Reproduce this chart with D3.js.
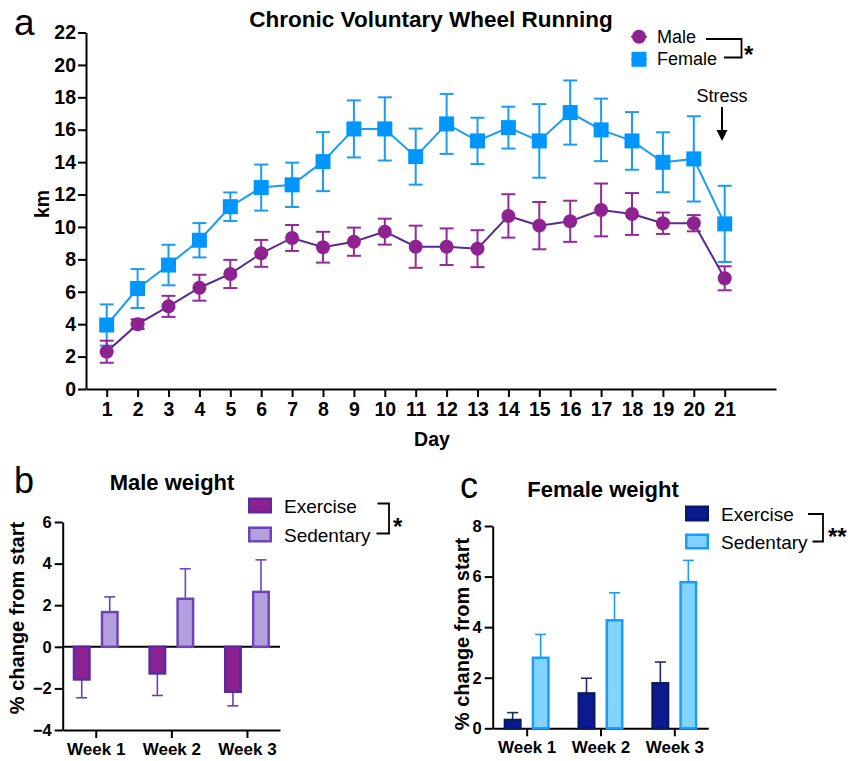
<!DOCTYPE html>
<html>
<head>
<meta charset="utf-8">
<script src="https://cdn.jsdelivr.net/npm/d3@7"></script>
<style>
  body { margin: 0; background: #fff; }
  text { font-family: "Liberation Sans", Arial, Helvetica, sans-serif; }
</style>
</head>
<body>
<script>
// Panel a: wheel running (km per day, mean and SEM)
const days = [1, 2, 3, 4, 5, 6, 7, 8, 9, 10, 11, 12, 13, 14, 15, 16, 17, 18, 19, 20, 21];
const kmTicks = [0, 2, 4, 6, 8, 10, 12, 14, 16, 18, 20, 22];
const maleKm = [2.3, 4.0, 5.1, 6.25, 7.1, 8.37, 9.32, 8.75, 9.09, 9.71, 8.78, 8.78, 8.66, 10.68, 10.08, 10.35, 11.05, 10.8, 10.23, 10.23, 6.83];
const maleSem = [0.68, 0.3, 0.65, 0.8, 0.87, 0.83, 0.8, 0.95, 0.87, 0.8, 1.3, 1.13, 1.14, 1.34, 1.46, 1.27, 1.63, 1.29, 0.66, 0.5, 0.74];
const femaleKm = [3.95, 6.2, 7.65, 9.18, 11.25, 12.43, 12.6, 14.03, 16.05, 16.05, 14.34, 16.36, 15.31, 16.13, 15.31, 17.06, 15.99, 15.31, 13.99, 14.2, 10.19];
const femaleSem = [1.27, 1.2, 1.25, 1.06, 0.88, 1.42, 1.37, 1.82, 1.76, 1.95, 1.73, 1.85, 1.43, 1.29, 2.27, 1.98, 1.93, 1.78, 1.85, 2.63, 2.35];

// Panels b and c: weight change
const weeks = ["Week 1", "Week 2", "Week 3"];
const groups = ["Exercise", "Sedentary"];
const maleTicks = [-4, -2, 0, 2, 4, 6];
const maleExercise = [-1.57, -1.28, -2.16];
const maleExerciseSem = [0.88, 1.06, 0.68];
const maleSedentary = [1.67, 2.31, 2.64];
const maleSedentarySem = [0.73, 1.44, 1.54];
const femaleTicks = [0, 2, 4, 6, 8];
const femaleExercise = [0.33, 1.38, 1.78];
const femaleExerciseSem = [0.29, 0.6, 0.84];
const femaleSedentary = [2.79, 4.27, 5.78];
const femaleSedentarySem = [0.92, 1.09, 0.86];

const FONT = '"Liberation Sans", Arial, Helvetica, sans-serif';

const svg = d3.select("body").append("svg")
  .attr("width", 855)
  .attr("height", 761);

function styleAxis(g, size) {
  g.select(".domain").attr("stroke", "#000").attr("stroke-width", 2);
  g.selectAll(".tick line").attr("stroke", "#000").attr("stroke-width", 2);
  g.selectAll(".tick text")
    .attr("font-family", FONT)
    .attr("font-size", size)
    .attr("font-weight", "bold")
    .attr("fill", "#000");
}

function addText(g, x, y, str, size, opts) {
  opts = opts || {};
  return g.append("text")
    .attr("x", x)
    .attr("y", y)
    .attr("font-size", size)
    .attr("font-weight", opts.bold ? "bold" : "normal")
    .attr("text-anchor", opts.anchor || "start")
    .attr("fill", "#000")
    .text(str);
}

function bracket(g, x1, y1, xr, y2, x2) {
  g.append("path")
    .attr("d", `M${x1},${y1}H${xr}V${y2}H${x2}`)
    .attr("fill", "none")
    .attr("stroke", "#000")
    .attr("stroke-width", 1.8);
}

/* ---------- Panel a ---------- */
const gA = svg.append("g");
const xA = d3.scaleLinear().domain([0.33, 22.66]).range([86, 776]);
const yA = d3.scaleLinear().domain([0, 22]).range([389, 32.5]);

gA.append("g")
  .attr("transform", "translate(0,389)")
  .call(d3.axisBottom(xA).tickValues(days).tickFormat(d3.format("d"))
    .tickSize(8).tickSizeOuter(0).tickPadding(5))
  .call(g => styleAxis(g, 19.5));
gA.append("g")
  .attr("transform", "translate(86,0)")
  .call(d3.axisLeft(yA).tickValues(kmTicks).tickSize(8).tickSizeOuter(0).tickPadding(2))
  .call(g => styleAxis(g, 19.5));

addText(gA, 14, 35, "a", 37);
addText(gA, 431, 27, "Chronic Voluntary Wheel Running", 22.5, { bold: true, anchor: "middle" });
addText(gA, 432, 446, "Day", 19.5, { bold: true, anchor: "middle" });
gA.append("text")
  .attr("transform", "translate(49,204) rotate(-90)")
  .attr("text-anchor", "middle")
  .attr("font-size", 19.5)
  .attr("font-weight", "bold")
  .text("km");

const seriesA = [
  { name: "Female", values: femaleKm, sem: femaleSem, marker: "#0096ff", line: "#1b9cf2", err: "#1b9cf2", shape: "square" },
  { name: "Male", values: maleKm, sem: maleSem, marker: "#8e2290", line: "#5a2a8e", err: "#93299a", shape: "circle" }
];

seriesA.forEach(s => {
  const pts = days.map((d, i) => ({ day: d, v: s.values[i], e: s.sem[i] }));
  const g = gA.append("g");
  // error bars
  const eb = g.selectAll(".eb").data(pts).enter().append("g")
    .attr("stroke", s.err).attr("stroke-width", 2);
  eb.append("line")
    .attr("x1", d => xA(d.day)).attr("x2", d => xA(d.day))
    .attr("y1", d => yA(d.v + d.e)).attr("y2", d => yA(d.v - d.e));
  eb.append("line")
    .attr("x1", d => xA(d.day) - 7).attr("x2", d => xA(d.day) + 7)
    .attr("y1", d => yA(d.v + d.e)).attr("y2", d => yA(d.v + d.e));
  eb.append("line")
    .attr("x1", d => xA(d.day) - 7).attr("x2", d => xA(d.day) + 7)
    .attr("y1", d => yA(d.v - d.e)).attr("y2", d => yA(d.v - d.e));
  // connecting line
  g.append("path")
    .datum(pts)
    .attr("fill", "none")
    .attr("stroke", s.line)
    .attr("stroke-width", 2)
    .attr("d", d3.line().x(d => xA(d.day)).y(d => yA(d.v)));
  // markers
  if (s.shape === "circle") {
    g.selectAll(".m").data(pts).enter().append("circle")
      .attr("cx", d => xA(d.day)).attr("cy", d => yA(d.v))
      .attr("r", 7).attr("fill", s.marker);
  } else {
    g.selectAll(".m").data(pts).enter().append("rect")
      .attr("x", d => xA(d.day) - 7.5).attr("y", d => yA(d.v) - 7.5)
      .attr("width", 15).attr("height", 15).attr("fill", s.marker);
  }
});

// legend a
const legA = gA.append("g");
[["Male", 36.7, seriesA[1]], ["Female", 59.3, seriesA[0]]].forEach(([name, ly, s]) => {
  legA.append("line").attr("x1", 631).attr("x2", 647).attr("y1", ly).attr("y2", ly)
    .attr("stroke", s.line).attr("stroke-width", 1.5);
  if (s.shape === "circle") {
    legA.append("circle").attr("cx", 639).attr("cy", ly).attr("r", 7).attr("fill", s.marker);
  } else {
    legA.append("rect").attr("x", 631.5).attr("y", ly - 7.5).attr("width", 15).attr("height", 15).attr("fill", s.marker);
  }
  addText(legA, 657, ly + 6, name, 18);
});
bracket(legA, 706, 39, 741.5, 57.5, 724);
addText(legA, 744, 63, "*", 24, { bold: true });

// stress marker
addText(gA, 722, 102, "Stress", 18, { anchor: "middle" });
gA.append("line").attr("x1", 722).attr("x2", 722).attr("y1", 107).attr("y2", 132)
  .attr("stroke", "#000").attr("stroke-width", 2);
gA.append("path").attr("d", "M716.5,130L727.5,130L722,141Z").attr("fill", "#000");

/* ---------- Panels b and c ---------- */
function barPanel(cfg) {
  const g = svg.append("g");
  const x = d3.scalePoint().domain(weeks).range([cfg.left, cfg.right]).padding(cfg.pad);
  const off = d3.scalePoint().domain(groups).range([-14, 14]);
  const y = d3.scaleLinear().domain(cfg.domain).range([cfg.bottom, cfg.top]);
  const barW = 18;

  g.append("g")
    .attr("transform", `translate(0,${cfg.bottom})`)
    .call(d3.axisBottom(x).tickSize(8).tickSizeOuter(0).tickPadding(5))
    .call(a => styleAxis(a, 17));
  g.append("g")
    .attr("transform", `translate(${cfg.left},0)`)
    .call(d3.axisLeft(y).tickValues(cfg.ticks).tickSize(8).tickSizeOuter(0).tickPadding(3))
    .call(a => styleAxis(a, 16.5));
  if (cfg.domain[0] < 0) {
    g.append("line")
      .attr("x1", cfg.left).attr("x2", cfg.right)
      .attr("y1", y(0)).attr("y2", y(0))
      .attr("stroke", "#000").attr("stroke-width", 2);
  }

  cfg.series.forEach(s => {
    const pts = weeks.map((w, i) => ({ w: w, v: s.values[i], e: s.sem[i] }));
    const cx = d => x(d.w) + off(s.name);
    // error bar (one-sided, away from zero)
    const eb = g.append("g").attr("stroke", s.err).attr("stroke-width", 1.6);
    eb.selectAll(".v").data(pts).enter().append("line")
      .attr("x1", cx).attr("x2", cx)
      .attr("y1", d => y(d.v)).attr("y2", d => y(d.v + Math.sign(d.v) * d.e));
    eb.selectAll(".c").data(pts).enter().append("line")
      .attr("x1", d => cx(d) - 5.5).attr("x2", d => cx(d) + 5.5)
      .attr("y1", d => y(d.v + Math.sign(d.v) * d.e)).attr("y2", d => y(d.v + Math.sign(d.v) * d.e));
    g.selectAll(".bar-" + s.name).data(pts).enter().append("rect")
      .attr("x", d => cx(d) - barW / 2 + 1.25)
      .attr("width", barW - 2.5)
      .attr("y", d => Math.min(y(d.v), y(0)))
      .attr("height", d => Math.abs(y(d.v) - y(0)))
      .attr("fill", s.fill)
      .attr("stroke", s.stroke)
      .attr("stroke-width", 2.5);
  });

  addText(g, cfg.labelX, cfg.labelY, cfg.label, 36);
  addText(g, cfg.titleX, cfg.titleY, cfg.title, 22, { bold: true, anchor: "middle" });
  g.append("text")
    .attr("transform", `translate(${cfg.yLabelX},${cfg.yLabelY}) rotate(-90)`)
    .attr("text-anchor", "middle")
    .attr("font-size", 20)
    .attr("font-weight", "bold")
    .text("% change from start");

  // legend
  cfg.series.forEach((s, i) => {
    const ly = cfg.legY[i];
    g.append("rect")
      .attr("x", cfg.legX + 1.25).attr("y", ly + 1.25)
      .attr("width", 21.5).attr("height", 13.5)
      .attr("fill", s.fill).attr("stroke", s.stroke).attr("stroke-width", 2.5);
    addText(g, cfg.legX + 36, ly + 15, s.name, 19);
  });
  const b = cfg.bracket;
  bracket(g, b[0], b[1], b[2], b[3], b[4]);
  addText(g, cfg.starX, cfg.starY, cfg.star, 24, { bold: true });
}

barPanel({
  left: 62.7, right: 280, pad: 0.437, top: 522, bottom: 730, domain: [-4, 6], ticks: maleTicks,
  label: "b", labelX: 14, labelY: 493,
  title: "Male weight", titleX: 172, titleY: 490,
  yLabelX: 24, yLabelY: 618,
  legX: 248, legY: [497.5, 526.5],
  bracket: [377.5, 503.5, 389, 533.5, 376.5], star: "*", starX: 393, starY: 535,
  series: [
    { name: "Exercise", values: maleExercise, sem: maleExerciseSem, fill: "#8e2191", stroke: "#5d2a9c", err: "#6b3fb0" },
    { name: "Sedentary", values: maleSedentary, sem: maleSedentarySem, fill: "#b3a0dc", stroke: "#6e45b5", err: "#6e45b5" }
  ]
});

barPanel({
  left: 492.7, right: 708.3, pad: 0.46, top: 526, bottom: 728.3, domain: [0, 8], ticks: femaleTicks,
  label: "c", labelX: 460, labelY: 498,
  title: "Female weight", titleX: 603, titleY: 497,
  yLabelX: 469, yLabelY: 634,
  legX: 685, legY: [505.5, 533.5],
  bracket: [808, 514, 823, 541.5, 812.5], star: "**", starX: 828, starY: 545,
  series: [
    { name: "Exercise", values: femaleExercise, sem: femaleExerciseSem, fill: "#0b1b8f", stroke: "#0a1a60", err: "#1e2a70" },
    { name: "Sedentary", values: femaleSedentary, sem: femaleSedentarySem, fill: "#80d4ff", stroke: "#1a9cff", err: "#1a9cff" }
  ]
});
</script>
</body>
</html>
